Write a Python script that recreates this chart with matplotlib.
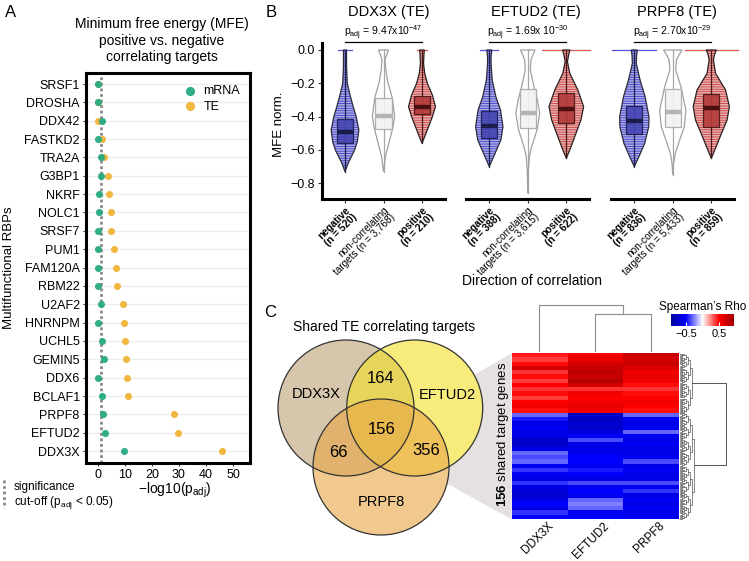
import numpy as np
import matplotlib
matplotlib.use('Agg')
import matplotlib.pyplot as plt
from matplotlib.patches import Circle, Polygon, Rectangle
from matplotlib.colors import LinearSegmentedColormap

plt.rcParams['font.family'] = ['Liberation Sans', 'DejaVu Sans']
plt.rcParams['mathtext.fontset'] = 'custom'
plt.rcParams['mathtext.rm'] = 'Liberation Sans'
plt.rcParams['mathtext.bf'] = 'Liberation Sans:bold'
plt.rcParams['mathtext.it'] = 'Liberation Sans:italic'
plt.rcParams['hatch.linewidth'] = 0.6

# ---------------- data: panel A ----------------
rbps = ['SRSF1', 'DROSHA', 'DDX42', 'FASTKD2', 'TRA2A', 'G3BP1', 'NKRF', 'NOLC1',
        'SRSF7', 'PUM1', 'FAM120A', 'RBM22', 'U2AF2', 'HNRNPM', 'UCHL5', 'GEMIN5',
        'DDX6', 'BCLAF1', 'PRPF8', 'EFTUD2', 'DDX3X']
mrna_mlog10p = [0.0, 0.2, 1.7, 0.2, 1.1, 1.1, 0.5, 0.5, 0.0, 0.0, 0.0,
                0.0, 1.1, 0.0, 1.5, 2.4, 0.0, 1.7, 2.1, 2.7, 9.6]
te_mlog10p = [0.0, 0.2, 0.0, 1.5, 2.4, 3.8, 4.3, 5.0, 5.1, 6.0, 6.9,
              7.0, 9.2, 9.6, 10.1, 10.3, 10.7, 11.1, 28.3, 29.7, 45.8]
sig_cutoff = -np.log10(0.05)

# ---------------- data: panel B ----------------
b_rbps = ['DDX3X', 'EFTUD2', 'PRPF8']
n_neg = ['520', '388', '836']
n_non = ['3,768', '3,615', '5,433']
n_pos = ['210', '622', '859']
p_adj = ['9.47x10$^{-47}$', '1.69x 10$^{-30}$', '2.70x10$^{-29}$']

# violin outlines: MFE levels and half widths
ddx3x_y = [[0, -0.1, -0.2, -0.27, -0.33, -0.4, -0.48, -0.55, -0.6, -0.68, -0.73],
           [0, -0.03, -0.06, -0.12, -0.19, -0.29, -0.4, -0.47, -0.54, -0.64, -0.73],
           [0, -0.03, -0.08, -0.14, -0.2, -0.27, -0.34, -0.4, -0.46, -0.52, -0.56]]
ddx3x_w = [[0.04, 0.04, 0.06, 0.13, 0.2, 0.29, 0.36, 0.32, 0.25, 0.08, 0.0],
           [0.13, 0.08, 0.04, 0.06, 0.11, 0.23, 0.29, 0.24, 0.16, 0.05, 0.0],
           [0.06, 0.05, 0.04, 0.07, 0.14, 0.27, 0.35, 0.27, 0.17, 0.07, 0.0]]
eftud2_y = [[0, -0.04, -0.08, -0.18, -0.28, -0.36, -0.46, -0.54, -0.62, -0.7],
            [0, -0.03, -0.06, -0.12, -0.22, -0.3, -0.38, -0.48, -0.58, -0.64, -0.72, -0.86],
            [0, -0.03, -0.07, -0.14, -0.24, -0.34, -0.42, -0.52, -0.6, -0.65]]
eftud2_w = [[0.065, 0.045, 0.045, 0.075, 0.17, 0.29, 0.355, 0.3, 0.15, 0.0],
            [0.19, 0.13, 0.08, 0.065, 0.16, 0.25, 0.31, 0.24, 0.1, 0.04, 0.015, 0.0],
            [0.095, 0.06, 0.03, 0.09, 0.3, 0.45, 0.38, 0.22, 0.09, 0.0]]
prpf8_y = [[0, -0.03, -0.08, -0.18, -0.28, -0.4, -0.46, -0.56, -0.64, -0.7],
           [0, -0.03, -0.06, -0.12, -0.22, -0.36, -0.46, -0.54, -0.62, -0.68, -0.75],
           [0, -0.03, -0.06, -0.14, -0.24, -0.34, -0.42, -0.52, -0.6, -0.65]]
prpf8_w = [[0.08, 0.06, 0.05, 0.15, 0.28, 0.38, 0.375, 0.27, 0.12, 0.0],
           [0.24, 0.16, 0.095, 0.075, 0.21, 0.34, 0.3, 0.18, 0.065, 0.02, 0.0],
           [0.13, 0.08, 0.055, 0.11, 0.37, 0.47, 0.41, 0.23, 0.09, 0.0]]

# boxes: (q1, median, q3)
ddx3x_box = [(-0.556, -0.49, -0.416), (-0.476, -0.396, -0.29), (-0.386, -0.344, -0.274)]
eftud2_box = [(-0.53, -0.454, -0.366), (-0.47, -0.376, -0.236), (-0.44, -0.356, -0.26)]
prpf8_box = [(-0.506, -0.424, -0.336), (-0.46, -0.37, -0.236), (-0.46, -0.35, -0.265)]

# spread of the points sitting at MFE = 0
ddx3x_zero = [0.18, 0.0, 0.13]
eftud2_zero = [0.23, 0.0, 0.62]
prpf8_zero = [0.57, 0.0, 0.69]

# ---------------- data: panel C ----------------
n_ddx3x_eftud2 = 164
n_all = 156
n_ddx3x_prpf8 = 66
n_eftud2_prpf8 = 356

# Spearman's rho of the 156 shared targets, in bands of 4 genes
rows_per_band = 4
rho_ddx3x = [0.45, 0.38, 0.48, 0.7, 0.4, 0.47, 0.38, 0.5, 0.4, 0.47, 0.38, 0.5, 0.55, 0.47,
             -0.3, -0.45, -0.6, -0.55, -0.6, -0.6, -0.72, -0.72, -0.6, -0.3, -0.35, -0.3,
             -0.55, -0.4, -0.55, -0.6, -0.4, -0.6, -0.68, -0.72, -0.6, -0.5, -0.6, -0.4, -0.55]
rho_eftud2 = [0.55, 0.6, 0.7, 0.75, 0.8, 0.75, 0.85, 0.7, 0.4, 0.55, 0.5, 0.55, 0.6, 0.55,
              -0.75, -0.78, -0.7, -0.72, -0.65, -0.55, -0.35, -0.6, -0.6, -0.6, -0.5, -0.5,
              -0.55, -0.45, -0.5, -0.6, -0.35, -0.55, -0.5, -0.55, -0.3, -0.25, -0.3, -0.55, -0.5]
rho_prpf8 = [0.75, 0.7, 0.75, 0.65, 0.55, 0.6, 0.55, 0.47, 0.4, 0.47, 0.5, 0.55, 0.5, 0.47,
             -0.3, -0.55, -0.6, -0.55, -0.3, -0.55, -0.6, -0.55, -0.6, -0.6, -0.55, -0.35,
             -0.6, -0.55, -0.6, -0.6, -0.35, -0.55, -0.4, -0.6, -0.55, -0.6, -0.55, -0.6, -0.55]
n_pos_bands = 14

# ---------------- figure ----------------
W, H = 749, 561
fig = plt.figure(figsize=(W / 100, H / 100), dpi=100)


def px_box(x0, y0, x1, y1):
    return [x0 / W, 1 - y1 / H, (x1 - x0) / W, (y1 - y0) / H]


# overlay in pixel coordinates for free text and the venn diagram
ov = fig.add_axes([0, 0, 1, 1], zorder=10)
ov.set_xlim(0, W)
ov.set_ylim(H, 0)
ov.axis('off')
ov.patch.set_alpha(0)

# ---------------- panel A ----------------
green, yellow = '#26aa82', '#f0b840'
axA = fig.add_axes(px_box(86, 73, 250, 463))
yA = np.arange(len(rbps))
for y in yA:
    axA.axhline(y, color='#ebebeb', lw=0.8, zorder=0)
axA.axvline(sig_cutoff, color='#8a8a8a', lw=2, ls=(0, (1, 1)), zorder=1)
axA.scatter(te_mlog10p, yA, s=26, color=yellow, lw=0, zorder=3, label='TE')
axA.scatter(mrna_mlog10p, yA, s=26, color=green, lw=0, alpha=0.95, zorder=4, label='mRNA')
axA.set_xlim(-4.3, 56.2)
axA.set_ylim(20.65, -0.6)
axA.set_yticks(yA)
axA.set_yticklabels(rbps, fontsize=9)
axA.set_xticks([0, 10, 20, 30, 40, 50])
axA.tick_params(axis='x', labelsize=9, length=2.5, color='#333333', pad=2)
axA.tick_params(axis='y', length=2.5, color='#333333', pad=2)
for sp in axA.spines.values():
    sp.set_linewidth(2.2)
h, l = axA.get_legend_handles_labels()
axA.legend(h[::-1], l[::-1], loc='upper right', bbox_to_anchor=(1.0, 0.995), frameon=False,
           fontsize=9, handletextpad=0.1, labelspacing=0.3, markerscale=1.3, borderaxespad=0.4)

ov.text(5, 12, 'A', fontsize=12, va='center')
ov.text(162, 40.5, 'Minimum free energy (MFE)\npositive vs. negative\ncorrelating targets',
        ha='center', va='center', fontsize=10, linespacing=1.2)
ov.text(9, 268, 'Multifunctional RBPs', rotation=90, ha='center', va='center', fontsize=9.5)
ov.text(175, 490, '\u2212log10(p$_{\\mathrm{adj}}$)', ha='center', va='center', fontsize=10)
ov.plot([4, 4], [480, 508], color='#8a8a8a', lw=2, ls=(0, (1, 1)))
ov.text(14, 487, 'significance', va='center', fontsize=8.5)
ov.text(14, 502, 'cut-off (p$_{\\mathrm{adj}}$ < 0.05)', va='center', fontsize=8.5)

# ---------------- panel B ----------------
styles = [
    dict(fill='#aeaee6', hatch='#3c3cc8', edge='#2a2a3a', boxface='#4646b4', boxedge='#1c1c50',
         med='#1c1c4a', zero='#5555dd'),
    dict(fill='white', hatch=None, edge='#a0a0a0', boxface='#f2f2f2', boxedge='#a8a8a8',
         med='#b4b4b4', zero=None),
    dict(fill='#e9b1b1', hatch='#c83c3c', edge='#2a2020', boxface='#b43c3c', boxedge='#4a1414',
         med='#4a1010', zero='#dd5555'),
]
all_y = [ddx3x_y, eftud2_y, prpf8_y]
all_w = [ddx3x_w, eftud2_w, prpf8_w]
all_box = [ddx3x_box, eftud2_box, prpf8_box]
all_zero = [ddx3x_zero, eftud2_zero, prpf8_zero]
b_lefts = [321.9, 466.2, 611.2]
title_x = [389, 536, 677]
box_hw = 0.21

for k in range(3):
    ax = fig.add_axes(px_box(b_lefts[k], 43, b_lefts[k] + 123.2, 199.3))
    ax.set_facecolor('none')
    for g in range(3):
        st = styles[g]
        ys = np.array(all_y[k][g])
        ws = np.array(all_w[k][g])
        xs = np.concatenate([g - ws, (g + ws)[::-1]])
        yy = np.concatenate([ys, ys[::-1]])
        if st['hatch']:
            ax.fill(xs, yy, facecolor=st['fill'], edgecolor=st['hatch'], lw=0, hatch='-------', zorder=1)
        else:
            ax.fill(xs, yy, facecolor=st['fill'], lw=0, zorder=1)
        ax.fill(xs, yy, facecolor='none', edgecolor=st['edge'], lw=0.9, zorder=3)
        ax.plot([g, g], [ys.min(), ys.max()], color=st['boxedge'], lw=0.9, zorder=2)
        q1, md, q3 = all_box[k][g]
        ax.add_patch(Rectangle((g - box_hw, q1), 2 * box_hw, q3 - q1, facecolor=st['boxface'],
                               edgecolor=st['boxedge'], lw=0.9, alpha=0.9, zorder=4))
        ax.plot([g - box_hw, g + box_hw], [md, md], color=st['med'], lw=3.2,
                solid_capstyle='butt', zorder=5)
        zw = all_zero[k][g]
        if zw > 0:
            ax.plot([g - zw, g + zw], [0, 0], color=st['zero'], lw=0.9, zorder=2, clip_on=False)
    ax.set_xlim(-0.6, 2.6)
    ax.set_ylim(-0.896, 0.042)
    ax.plot([0, 2], [0.05, 0.05], color='black', lw=0.9, clip_on=False)
    ax.text(1, 0.105, 'p$_{\\mathrm{adj}}$ = ' + p_adj[k], ha='center', va='center', fontsize=7.5,
            clip_on=False)
    ax.set_xticks([0, 1, 2])
    labs = ax.set_xticklabels(['negative\n(n = %s)' % n_neg[k],
                               'non-correlating\ntargets (n = %s)' % n_non[k],
                               'positive\n(n = %s)' % n_pos[k]],
                              rotation=45, ha='right', va='top', rotation_mode='anchor',
                              fontsize=7.2, linespacing=0.95)
    for i, lab in enumerate(labs):
        lab.set_multialignment('right')
        if i != 1:
            lab.set_fontweight('bold')
    ax.tick_params(axis='x', length=3, color='#333333', pad=1)
    for s in ['top', 'right']:
        ax.spines[s].set_visible(False)
    ax.spines['bottom'].set_linewidth(2.2)
    if k == 0:
        ax.spines['left'].set_linewidth(2.2)
        ax.set_yticks([0, -0.2, -0.4, -0.6, -0.8])
        ax.set_yticklabels(['0.0', '\u22120.2', '\u22120.4', '\u22120.6', '\u22120.8'])
        ax.tick_params(axis='y', labelsize=9, length=3, color='#333333', pad=2)
    else:
        ax.spines['left'].set_visible(False)
        ax.set_yticks([])
    ov.text(title_x[k], 12, b_rbps[k] + ' (TE)', ha='center', va='center', fontsize=10.5)

ov.text(266, 12, 'B', fontsize=12, va='center')
ov.text(279, 124, 'MFE norm.', rotation=90, ha='center', va='center', fontsize=9.5)
ov.text(532, 281, 'Direction of correlation', ha='center', va='center', fontsize=10)

# ---------------- panel C ----------------
ov.text(264, 312, 'C', fontsize=12, va='center')
ov.text(293, 327, 'Shared TE correlating targets', va='center', fontsize=10)

hm_x0, hm_y0, hm_x1, hm_y1 = 511.7, 353.3, 678.3, 519.3
ov.add_patch(Polygon([(395, 420), (hm_x0, hm_y0), (hm_x0, hm_y1), (395, 455)],
                     closed=True, facecolor='#e6e1e1', edgecolor='none', zorder=1))
venn = [((346, 408), '#bca376'), ((414.7, 408), '#f3df25'), ((381, 467), '#e8a544')]
r = 68
for (c, col) in venn:
    ov.add_patch(Circle(c, r, facecolor='white', edgecolor='none', zorder=2))
for (c, col) in venn:
    ov.add_patch(Circle(c, r, facecolor=col, edgecolor='none', alpha=0.6, zorder=3))
for (c, col) in venn:
    ov.add_patch(Circle(c, r, facecolor='none', edgecolor='#333333', lw=0.9, zorder=4))
ov.text(316, 394, 'DDX3X', ha='center', va='center', fontsize=10.5, zorder=5)
ov.text(447, 395, 'EFTUD2', ha='center', va='center', fontsize=10.5, zorder=5)
ov.text(381, 502, 'PRPF8', ha='center', va='center', fontsize=10.5, zorder=5)
ov.text(381, 378, str(n_ddx3x_eftud2), ha='center', va='center', fontsize=12, zorder=5)
ov.text(381.5, 429, str(n_all), ha='center', va='center', fontsize=12, zorder=5)
ov.text(338, 452, str(n_ddx3x_prpf8), ha='center', va='center', fontsize=12, zorder=5)
ov.text(426, 450, str(n_eftud2_prpf8), ha='center', va='center', fontsize=12, zorder=5)

# heatmap
rho = np.column_stack([np.repeat(rho_ddx3x, rows_per_band),
                       np.repeat(rho_eftud2, rows_per_band),
                       np.repeat(rho_prpf8, rows_per_band)])
n_rows = rho.shape[0]
cmap = LinearSegmentedColormap.from_list('rho', [(0, '#00009c'), (0.237, '#0000ff'), (0.5, '#ffffff'),
                                                 (0.763, '#ff0000'), (1, '#a00000')])
axH = fig.add_axes(px_box(hm_x0, hm_y0, hm_x1, hm_y1))
im = axH.imshow(rho, aspect='auto', cmap=cmap, vmin=-0.95, vmax=0.95, interpolation='nearest')
axH.axis('off')

cax = fig.add_axes(px_box(671, 314, 734, 326))
cb = fig.colorbar(im, cax=cax, orientation='horizontal', ticks=[-0.5, 0.5])
cb.outline.set_visible(False)
cb.ax.set_xticklabels(['\u22120.5', '0.5'])
cb.ax.tick_params(direction='in', color='white', length=3, labelsize=8, pad=2)
ov.text(703, 307, 'Spearman\u2019s Rho', ha='center', va='center', fontsize=8.5)

# column dendrogram
col_w = (hm_x1 - hm_x0) / 3
cx = [hm_x0 + (j + 0.5) * col_w for j in range(3)]
dcol = '#8c8c8c'
ov.plot([cx[1], cx[1], cx[2], cx[2]], [hm_y0 - 2, 314, 314, hm_y0 - 2], color=dcol, lw=0.8)
mid12 = (cx[1] + cx[2]) / 2
ov.plot([cx[0], cx[0], mid12, mid12], [hm_y0 - 2, 305, 305, 314], color=dcol, lw=0.8)

# row dendrogram
row_h = (hm_y1 - hm_y0) / n_rows
leaf_x = hm_x1 + 1.2
step = 2.0


def row_tree(lo, hi):
    if hi - lo == 1:
        return hm_y0 + (lo + 0.5) * row_h, leaf_x
    mid = (lo + hi) // 2
    ya, xa = row_tree(lo, mid)
    yb, xb = row_tree(mid, hi)
    x = max(xa, xb) + step
    ov.plot([xa, x, x, xb], [ya, ya, yb, yb], color='#555555', lw=0.5)
    return (ya + yb) / 2, x


split = n_pos_bands * rows_per_band
ya, xa = row_tree(0, split)
yb, xb = row_tree(split, n_rows)
ov.plot([xa, 726, 726, xb], [ya, ya, yb, yb], color='#555555', lw=0.7)

ov.text(503, 434, '$\\mathbf{156}$ shared target genes', rotation=90, ha='center', va='center',
        fontsize=9.5)
for j, name in enumerate(b_rbps):
    ov.text(cx[j] + 8, 520, name, rotation=45, ha='right', va='top', rotation_mode='anchor',
            fontsize=8.5)

fig.savefig('out.png', dpi=100)
